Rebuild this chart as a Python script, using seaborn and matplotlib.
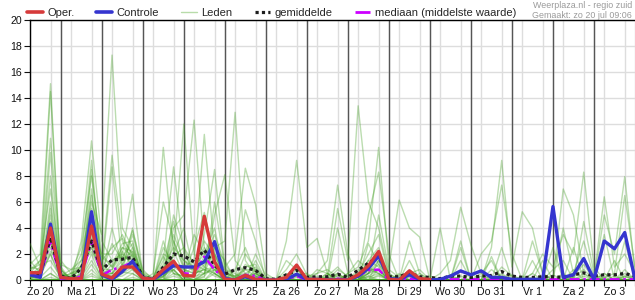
import numpy as np
import pandas as pd
import matplotlib
matplotlib.use("Agg")
import matplotlib.pyplot as plt
from matplotlib.lines import Line2D
import seaborn as sns

# ---------------- data ----------------
DAY_LABELS = ["Zo 20", "Ma 21", "Di 22", "Wo 23", "Do 24", "Vr 25", "Za 26", "Zo 27",
              "Ma 28", "Di 29", "Wo 30", "Do 31", "Vr 1", "Za 2", "Zo 3"]
STEP_HOURS = 6  # one value per 6 hours, first at 06:00 on Zo 20

OPER = [0.56, 0.56, 4.0, 0.2, 0.1, 0.1, 4.15, 0.45, 0.15, 1.0, 1.0, 0.15,
        0.05, 0.8, 1.45, 0.35, 0.3, 4.9, 1.4, 0.05, 0.0, 0.35, 0.05, 0.0,
        0.0, 0.2, 1.15, 0.05, 0.05, 0.0, 0.0, 0.0, 0.4, 1.1, 2.2, 0.05,
        0.0, 0.7, 0.1, 0.05]

CONTROLE = [0.4, 0.2, 4.3, 0.2, 0.05, 0.05, 5.25, 0.4, 0.05, 0.65, 1.45, 0.15,
            0.05, 0.55, 1.1, 1.0, 1.0, 1.4, 2.95, 0.1, 0.0, 0.25, 0.05, 0.0,
            0.0, 0.05, 0.45, 0.05, 0.05, 0.0, 0.0, 0.0, 0.3, 0.9, 1.85, 0.1,
            0.05, 0.4, 0.05, 0.0, 0.05, 0.3, 0.7, 0.4, 0.7, 0.2, 0.2, 0.05,
            0.05, 0.05, 0.05, 5.65, 0.2, 0.4, 1.65, 0.05, 3.0, 2.4, 3.65, 0.05]

GEMIDDELDE = [0.5, 0.45, 3.3, 0.3, 0.1, 0.9, 3.0, 0.75, 1.55, 1.6, 1.75, 0.25,
              0.05, 1.0, 2.0, 1.85, 1.4, 2.3, 1.15, 0.45, 0.8, 0.95, 0.75, 0.1,
              0.05, 0.4, 0.75, 0.2, 0.25, 0.25, 0.45, 0.2, 0.75, 1.3, 1.8, 0.25,
              0.25, 0.55, 0.25, 0.2, 0.1, 0.3, 0.3, 0.2, 0.3, 0.35, 0.65, 0.3,
              0.2, 0.2, 0.25, 0.25, 0.2, 0.4, 0.55, 0.3, 0.4, 0.4, 0.5, 0.3]

MEDIAAN = [0.4, 0.3, 3.0, 0.1, 0.0, 0.3, 3.0, 0.35, 0.8, 1.0, 1.4, 0.1,
           0.0, 0.6, 1.3, 0.5, 0.5, 1.8, 0.8, 0.1, 0.05, 0.4, 0.3, 0.0,
           0.0, 0.05, 0.3, 0.0, 0.0, 0.05, 0.1, 0.0, 0.3, 0.75, 0.8, 0.0,
           0.0, 0.1, 0.0, 0.0, 0.05, 0.05, 0.05, 0.05, 0.05, 0.05, 0.05, 0.05,
           0.05, 0.05, 0.05, 0.05, 0.05, 0.05, 0.05, 0.05, 0.05, 0.05, 0.05, 0.05]

LID_01 = [1.2,2.0,15.1,0.5, 0.2,0.8,6.5,1.5, 2.5,3.2,2.0,0.3, 0,0.5,3.5,1.5, 0.8,4.5,2.0,0.2, 0,1.2,0.6,0, 0,0,0.5,0, 0,0.3,1.0,0.2, 0.5,2.0,3.5,0.3, 0,0.8,0.2,0, 0,0,1.5,0, 0.5,0,2.5,0, 0,1.5,0,0, 0,0.3,1.2,0, 0.2,0,3.0,0]
LID_02 = [0.3,0.8,14.5,0.2, 0,0.3,3.5,0.4, 0.5,1.8,2.8,0.1, 0,2.5,1.2,0.5, 0.3,1.5,3.0,0.8, 0.5,0,1.5,0, 0,0,0,0, 0.2,0,0,0.5, 1.5,0.8,2.2,0, 0,0,0.5,0, 0,0.4,0,0, 0,0,1.0,0.3, 0,3.0,0.5,0, 0,0,4.5,0.5, 0,0.3,0,0]
LID_03 = [2.8,1.0,10.9,1.5, 0.5,2.5,8.0,2.0, 1.0,2.2,1.0,0, 0,0.2,5.0,2.5, 1.2,0.8,1.0,0, 0,0,0,0, 0,0.8,2.0,0.4, 0,0,0.3,0, 0.2,1.5,1.0,0, 0.4,0,0,0, 0,0,2.5,0, 0,0.3,0,0, 0,0.5,0,0, 0,0,0.3,0, 3.5,0,0,0.2]
LID_04 = [0.5,0.2,9.8,0.3, 0.8,1.0,5.0,0.2, 4.0,1.0,3.5,0.6, 0.2,1.8,0.5,0.3, 2.5,5.2,1.5,0.5, 0,0.4,0.2,0, 0,0,0.3,0, 0.5,0.8,0.2,0, 0,0.5,5.0,0.8, 0.2,0.3,0,0, 0,0,0,0, 0,1.8,0,0, 0.3,0,0,0, 0,2.5,0,0, 0,0,0.8,0]
LID_05 = [0.2,0.4,6.0,0.8, 0,3.0,10.7,3.0, 1.5,2.0,1.2,0, 0,0.8,2.0,4.0, 0.5,2.5,0.5,0, 0.8,2.5,0.5,0, 0,0,1.0,0, 0,0,0,0, 0.3,0,1.5,0, 0,0,0,0.3, 0,0,0,0, 0,0.8,0.2,0, 0,0,0,2.5, 0,0,0,0.2, 0,0,0,0]
LID_06 = [0,0.5,8.0,0, 0.2,1.5,9.2,0.8, 0.8,2.5,2.2,0.5, 0,0,1.5,0.2, 0,1.0,2.5,1.5, 0,0.5,1.0,0, 0,0,0,0, 0.8,0.5,0,0, 0,2.8,1.2,0, 0,1.5,0,0, 0,0,0,0, 0,0,0,0, 0,0,0,0.4, 0,0,0,0, 0.5,0,0,0]
LID_07 = [0.8,1.5,7.0,1.0, 0,0.5,6.0,3.5, 17.3,4.0,2.5,0.2, 0,0.5,0.8,0, 0,0.3,1.2,0.5, 0.2,0,0,0, 0,0,0,0, 0,0,0.5,0, 0.8,0.5,2.0,0.5, 0,0,0,0, 0,0,0,0, 0,0,0.4,0, 0,0,0,0, 0,0,0,0, 0,0,0,0]
LID_08 = [0,0,5.5,0.5, 0,0.2,8.5,1.0, 9.6,3.0,1.5,0, 0.5,6.0,3.0,0.8, 0.5,0.8,0.3,0, 0,0,0,0, 0,1.5,0.8,0, 0,0,0,0, 0,0.3,0.8,0, 0,0.5,0.8,0, 0,0,0,0, 0,0,0,0, 0,0,0,0, 0,0.2,0,0, 0,0,0.3,0]
LID_09 = [0.4,1.0,4.5,0.2, 0.5,0.8,7.0,0.5, 8.7,1.2,0.8,0.3, 0,0.3,1.0,0.5, 3.5,2.0,4.0,0.3, 0,0.8,0.3,0, 0,0,0,0, 0,0,0,0, 0,0.8,0.5,0, 0,0,0.2,0, 0.2,0,0,0, 0,0,0,0, 0,0,0,0, 0,0,0,0, 0,0,0.2,0.3]
LID_10 = [1.5,0.5,4.0,0.8, 0,0,4.5,0.3, 0.5,1.5,3.8,0.8, 0,10.2,2.2,0.5, 1.0,1.5,0.8,0.3, 0,0.3,0.5,0, 0,0,0.5,0.5, 0,0,0,0, 0,0,0.4,0, 0,0,0,0, 0,0,0,0.5, 0,0,0,0, 0,0,0.3,0, 0,0,0,0, 0,0,0,0]
LID_11 = [0.2,0.2,3.5,0, 0.3,2.0,5.5,0.8, 0.2,0.8,2.0,0, 0,1.5,8.7,2.0, 0.8,3.0,1.8,0.5, 0.3,0.5,0,0, 0,0.3,0,0, 0,0,0.8,0.3, 0,0.5,1.2,0.2, 0,0,0,0, 0,0,0,0, 0,0,0,0, 0,0,0,0, 0.5,0,0,0, 0,0,0,0]
LID_12 = [0.3,0.3,3.0,0.5, 0,0.5,4.0,2.0, 2.0,3.5,1.8,0.3, 0,0,2.0,12.0, 2.0,1.0,0.5,0, 0,0,0.8,0, 0,0,0,0, 0,0,0,0, 0.5,0,0,0, 0,0.3,0,0, 0,0,0,0, 0,0,0,0, 0,0,0,0, 0,0,0,0, 0,0,0,0]
LID_13 = [0,0.8,2.5,0.3, 0.2,0,3.0,0.2, 0.3,1.0,1.2,0, 0,0.5,4.0,5.0, 12.3,2.5,1.0,0.2, 0,0,0,0, 0,0.5,0.3,0, 0,0,0,0, 0,0,0.8,0, 0,0,0,0, 0,0,0,0, 0,0,0,0.4, 0,0,0,0, 0,0,0,0, 0,0,0.3,0]
LID_14 = [0.6,0.4,2.0,0, 0,0.4,3.2,0.3, 1.2,2.8,3.0,0.2, 0,0.2,3.0,1.0, 1.5,11.2,2.0,0.8, 0,0.2,0.5,0, 0,0,0,0, 0,0.2,0,0, 0,0,0.3,0, 0,0,0,0, 0,0,0,0, 0,0,0,0, 0,0,0,0, 0,0,0,0, 0,0,0,0]
LID_15 = [0.8,1.2,1.5,0.2, 0.5,1.0,2.5,0.5, 0.5,0.5,4.0,0.3, 0,0,0.5,0, 0.2,3.5,8.5,1.0, 0,0,2.0,0.3, 0,0,0,0, 0,0,0,0, 0,1.0,0.5,0, 0,0.2,0,0, 0,0,0,0, 0,0,0,0, 0,0,0,0, 0,0,0,0, 0,0,0,0]
LID_16 = [0,0.2,1.0,0, 0,0.2,2.0,0, 0.2,0.3,0.8,0, 0,2.0,1.5,0.2, 0.3,0.5,5.0,8.1, 1.5,0.5,0,0, 0,0,0,0, 0,0.5,0,0, 0,0.3,0,0, 0,0,0,0, 0,0,0,0, 0,0,0,0, 0,0,0,0, 0,0,0,0, 0,0,0,0]
LID_17 = [0,0,0.5,0, 0,0,1.2,0, 0,0,0.5,0, 0,0.3,0.8,0, 0,0.5,2.5,3.0, 12.9,1.5,0.3,0, 0,0,0,0, 0,0,0,0, 0,0,0,0, 0,0,0,0, 0,0.3,0,0, 0,0,0,0, 0,0,0,0, 0,0,0,0, 0,0,0,0]
LID_18 = [0,0,0.2,0, 0,0,0.8,0, 0,0,0.2,0, 0,0,0,0, 0,0.2,6.0,1.0, 2.0,8.6,5.8,0.5, 0,0,0,0, 0,0,0,0, 0,0,0,0, 0,0,0,0, 0,0,0,0, 0,0,0,0, 0,0,0,0, 0,0,0,0, 0,0,0,0]
LID_19 = [0,0,0,0, 0,0,0.5,0, 0,0.5,1.0,0, 0,0,0,0, 0,0,0.8,0, 0,5.4,3.0,0, 0,3.0,9.2,2.5, 3.2,0.5,0,0, 0,0,0,0, 0,0,0,0, 0,0,0,0, 0,0,0,0, 0,0,0,0, 0,0,0,0, 0,0,0,0]
LID_20 = [0.3,0,0,0, 0,0,0.3,0, 0,0,0,0, 0,0,0.3,0, 0,0,0.5,0, 0,0,0.5,0, 0,0,0.8,0.3, 0.5,1.5,7.3,2.0, 0.2,0.5,0.8,0, 0,0,0,0, 0,0,0,0, 0,0,0,0, 0,0,0,0, 0,0,0,0, 0,0,0,0]
LID_21 = [0,0,0,0, 0,0,0,0, 0,0,0,0, 0,0,0,0, 0,0,0,0, 0,0,0,0, 0,0,0,0, 0,0.3,5.5,1.5, 13.4,6.0,4.0,0.5, 0,0,0,0, 4.0,0,0,0, 0,0,0,0, 0,0,0,0, 0,0,0,0, 0,0,0,0]
LID_22 = [0,0,0.5,0, 0,0,0,0, 0.3,0,0,0, 0,0,0,0, 0,0,0,0, 0,0,0,0, 0,0,0,0, 0,0,4.0,0.5, 1.0,3.0,10.2,1.0, 6.15,4.0,3.3,0, 0,0,0,0, 0,0,0,0, 0,0,0,0, 0,0,0,0, 0,0,0,0]
LID_23 = [0,0,0,0, 0,0,0,0, 0,0,0,0, 0,0,0,0, 0,0,0,0, 0,0,0,0, 0,0,0,0, 0,0,0,0, 0,5.0,8.3,2.0, 0,3.0,0.5,0, 0.5,1.5,5.6,2.7, 0.5,1.5,0,0, 0,0,0,0, 0,0,0,0, 0,0,0,0]
LID_24 = [0,0,0,0, 0,0,0,0, 0,0,0,0, 0,0,0,0, 0,0,0,0, 0,0,0,0, 0,0,0,0, 0,0,0,0, 0,0,0,0, 0,0,0,0, 0,0,3.0,0, 0,2.5,9.2,1.0, 5.25,4.0,0.5,0, 0,0.8,0,0, 0,0,0,0]
LID_25 = [0,0,0,0, 0,0,0,0, 0,0,0,0, 0,0,0,0, 0,0,0,0, 0,0,0,0, 0,0,0,0, 0,0,0,0, 0,0,0,0, 0,0,0,0, 0,0,0,0, 2.0,3.0,7.3,2.0, 0,0,1.5,0, 7.0,5.0,0.5,0, 0.5,0,0,0]
LID_26 = [0,0,0,0, 0,0,0,0, 0,0,0,0, 0,0,0,0, 0,0,0,0, 0,0,0,0, 0,0,0,0, 0,0,0,0, 0,0,0,0, 0,0,0,0, 0,0,0,0, 0,0,0,0, 0,0.5,2.0,1.0, 3.5,2.0,8.3,1.0, 0,1.5,0,0]
LID_27 = [0,0,0,0, 0,0,0,0, 0,0,0,0, 0,0,0,0, 0,0,0,0, 0,0,0,0, 0,0,0,0, 0,0,0,0, 0,0,0,0, 0,0,0,0, 0,0,0,0, 0,0,0,0, 0,0,0,0, 4.0,0.5,3.0,0.2, 6.4,1.0,2.0,0.5]
LID_28 = [0,0,0,0, 0,0,0,0, 0,0,0,0, 0,0,0,0, 0,0,0,0, 0,0,0,0, 0,0,0,0, 0,0,0,0, 0,0,0,0, 0,0,0,0, 0,0,0,0, 0,0,0,0, 0,0,0,0, 0,0.2,0.8,0, 5.0,2.0,7.95,0.5]
LID_29 = [0,0,0,0, 0,0,0,0, 0,0,0,0, 0,0,0,0, 0,0,0,0, 0,0,0,0, 0,0,0,0, 0,0,0,0, 0,0,0,0, 0,0,0,0, 0,0,0,0, 0,0,0,0, 0,0,0,0.8, 1.5,0,0,0, 0.2,0.5,6.5,1.0]
LID_30 = [0.5,0.3,2.0,0.2, 0.2,1.0,2.5,0.5, 0.8,2.0,6.6,0.3, 0,0,0.8,0, 0.5,0.8,0.5,0, 0,0,0,0, 0,0,0,0, 0,0,0,0, 0,0,0,0, 0,0,0,0, 0,0,0,0, 0,0,0,0, 0,0,0,0, 0,0,0,0, 0,0,0,0]
LID_31 = [1.0,0.8,3.0,0.5, 0.3,0.8,3.8,1.2, 0.5,1.2,2.5,0.2, 0,1.0,2.5,1.5, 1.0,2.0,1.5,0.5, 0.3,0.8,0.8,0, 0,0.2,1.0,0, 0,0.2,0.5,0, 0.3,1.5,2.5,0.3, 0,0.5,0,0, 0,0,0.3,0, 0,0,0.5,0, 0,0,0,0, 0,0,0.5,0, 0,0,0.5,0]
LID_32 = [0.5,1.5,4.2,0.8, 0,1.2,2.2,0.6, 1.5,1.8,1.5,0.5, 0,0.8,1.8,2.5, 0.3,1.2,2.0,0.3, 0,1.0,1.2,0, 0,0,0.2,0, 0.3,0,0.4,0, 0.5,0.8,1.8,0, 0.5,0,0,0, 0,0,0,0, 0.3,0,0,0, 0,0,0,0, 0,0,0,0, 0,0,0,0]
LID_33 = [0.2,0.6,2.2,1.2, 0.8,1.5,3.0,1.8, 1.0,2.5,1.8,0.2, 0.2,0.3,1.2,0.8, 0.5,1.8,3.5,1.2, 0.2,0.3,0.3,0, 0,0,0.5,0.2, 0,0.5,0,0, 0,0.8,0.8,0, 0,0,0.3,0, 0,0,0,0, 0,0,0,0, 0,0.2,0,0, 0,0,0,0, 0,0,0,0]
LID_34 = [0.6,0.3,5.0,0.3, 0.2,0.2,1.5,0.2, 0.3,0.6,0.5,0, 0,3.0,0.5,0.3, 0,0.5,1.0,0, 0,0,0,0, 0,0,0,0, 0,0,0,0.5, 0,0.2,0.5,0, 0,0,0,0, 0,0,0,0, 0,0,0,0, 0,0,0,0, 0,0,0,0, 0,0,0,0]
LID_35 = [0.4,0.6,3.2,0.2, 0,0.6,5.0,0.6, 2.8,1.5,2.2,0, 0,1.2,4.5,1.0, 0.8,0.5,0.8,0, 0,2.0,0.8,0, 0,0,0,0, 0,0,0,0, 0,0.5,1.5,0, 0,0,0,0, 0,0,0,0, 0,0,0,0, 0,0,0,0, 0,0,0,0, 0,0,0,0]

LEDEN = [LID_01, LID_02, LID_03, LID_04, LID_05, LID_06, LID_07, LID_08, LID_09, LID_10,
         LID_11, LID_12, LID_13, LID_14, LID_15, LID_16, LID_17, LID_18, LID_19, LID_20,
         LID_21, LID_22, LID_23, LID_24, LID_25, LID_26, LID_27, LID_28, LID_29, LID_30,
         LID_31, LID_32, LID_33, LID_34, LID_35]

# ---------------- styling ----------------
C_OPER = "#d63a3a"
C_CTRL = "#3535cf"
C_LID = "#44a024"
C_MEAN = "#1e1e1e"
C_MED = "#cc00ff"
DOT = (0, (1, 1))
DASH = (0, (4, 1.5, 1, 1.5))

sns.set_theme(style="white")
plt.rcParams["font.family"] = ["Liberation Sans", "DejaVu Sans"]

n = len(CONTROLE)
days_per_step = STEP_HOURS / 24.0
t = (np.arange(n) + 1) * days_per_step

fig = plt.figure(figsize=(6.35, 3.0), dpi=100)
ax = fig.add_axes([30 / 635, 20 / 300, 605 / 635, 260 / 300])

leden_df = pd.DataFrame(
    [(k, tt, v) for k, vals in enumerate(LEDEN) for tt, v in zip(t, vals)],
    columns=["lid", "t", "mm"])
sns.lineplot(data=leden_df, x="t", y="mm", units="lid", estimator=None,
             color=C_LID, alpha=0.36, lw=1, ax=ax, legend=False, zorder=3)

sns.lineplot(x=t, y=MEDIAAN, color=C_MED, lw=1.8, linestyle=DASH,
             errorbar=None, ax=ax, zorder=4)
sns.lineplot(x=t, y=GEMIDDELDE, color=C_MEAN, lw=2.3, linestyle=DOT,
             errorbar=None, ax=ax, zorder=5)
sns.lineplot(x=t, y=CONTROLE, color=C_CTRL, lw=2.4, errorbar=None, ax=ax, zorder=6)
sns.lineplot(x=t[:len(OPER)], y=OPER, color=C_OPER, lw=2.4, errorbar=None, ax=ax, zorder=7)

n_days = len(DAY_LABELS)
ax.set_xlim(days_per_step, n_days)
ax.set_ylim(0, 20)
ax.set_yticks(np.arange(0, 21, 2))
ax.set_xticks(np.arange(n_days) + 0.5)
ax.set_xticklabels(DAY_LABELS)
ax.set_xticks(np.arange(1, n_days * 4 + 1) * days_per_step, minor=True)
ax.set_xlabel("")
ax.set_ylabel("")

ax.set_axisbelow(True)
ax.grid(which="minor", axis="x", color="#dddddd", lw=1)
ax.grid(which="major", axis="y", color="#dddddd", lw=1)
ax.grid(which="major", axis="x", visible=False)
for d in range(1, n_days):
    ax.axvline(d, color="#555555", lw=1, zorder=1)

ax.tick_params(axis="x", which="major", length=0, labelsize=7.6, pad=5, colors="#111111")
ax.tick_params(axis="x", which="minor", length=4, width=0.8, direction="out", bottom=True, color="#111111")
ax.tick_params(axis="y", which="major", length=4, width=0.8, direction="out", left=True,
               labelsize=7.6, pad=2, colors="#111111")
for side in ["left", "bottom", "top"]:
    ax.spines[side].set_color("black")
    ax.spines[side].set_linewidth(1.0)
ax.spines["right"].set_visible(False)

handles = [
    Line2D([], [], color=C_OPER, lw=2.6),
    Line2D([], [], color=C_CTRL, lw=2.6),
    Line2D([], [], color="#b8dcaa", lw=1),
    Line2D([], [], color=C_MEAN, lw=2.3, linestyle=DOT),
    Line2D([], [], color=C_MED, lw=2.0, linestyle=(0, (6, 2, 1, 2))),
]
labels = ["Oper.", "Controle", "Leden", "gemiddelde", "mediaan (middelste waarde)"]
fig.legend(handles, labels, loc="center left", bbox_to_anchor=(27 / 635, 1 - 13 / 300),
           ncol=5, frameon=False, fontsize=8, handlelength=1.4, handletextpad=0.4,
           columnspacing=2.0, borderpad=0, borderaxespad=0)

fig.text(632 / 635, 1 - 5 / 300, "Weerplaza.nl - regio zuid", ha="right", va="center",
         fontsize=6.4, color="#9a9a9a")
fig.text(632 / 635, 1 - 15 / 300, "Gemaakt: zo 20 jul 09:06", ha="right", va="center",
         fontsize=6.4, color="#9a9a9a")

fig.savefig("out.png", dpi=100)
